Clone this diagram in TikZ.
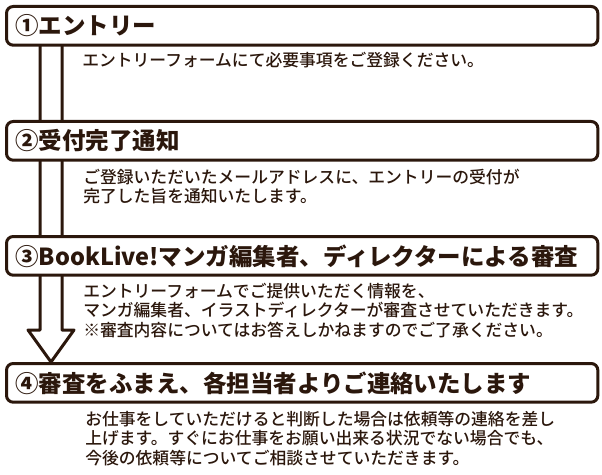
\documentclass[tikz,border=0pt]{standalone}
\usepackage{fontspec}
\newfontfamily\cjk{Noto Sans CJK JP}[BoldFont={* Black}]
\newfontfamily\cjkmid{Noto Sans CJK JP Medium}
\usetikzlibrary{positioning,calc,backgrounds}
\definecolor{ink}{HTML}{2B170C}

\begin{document}
\begin{tikzpicture}[x=0.75pt,y=-0.75pt,
  stepbox/.style={draw=ink,line width=2.25pt,rounded corners=5pt,fill=white,anchor=north west,
    minimum height=29pt,text width=430pt,inner xsep=6.75pt,align=left,text=ink,
    font=\cjk\bfseries\fontsize{17.6}{20}\selectfont},
  desc/.style={anchor=north west,inner sep=0pt,align=left,text=ink,
    font=\cjkmid\fontsize{12.6}{14.6}\selectfont},
  arrowline/.style={draw=ink,line width=2.25pt,line join=round}]
\useasboundingbox (0,0) rectangle (602,474);
\node[stepbox] (s1) at (5,5) {①エントリー};
\node[stepbox] (s2) at (5,120) {②受付完了通知};
\node[stepbox] (s3) at (5,235) {③BookLive!マンガ編集者、ディレクターによる審査};
\node[stepbox] (s4) at (5,362) {④審査をふまえ、各担当者よりご連絡いたします};
\node[desc] (d1) at (82,51.6) {エントリーフォームにて必要事項をご登録ください。};
\node[desc] (d2) at (83,168.6) {ご登録いただいたメールアドレスに、エントリーの受付が\\完了した旨を通知いたします。};
\node[desc] (d3) at (83,282.6) {エントリーフォームでご提供いただく情報を、\\マンガ編集者、イラストディレクターが審査させていただきます。\\※審査内容についてはお答えしかねますのでご了承ください。};
\node[desc] (d4) at (85,410.6) {お仕事をしていただけると判断した場合は依頼等の連絡を差し\\上げます。すぐにお仕事をお願い出来る状況でない場合でも、\\今後の依頼等についてご相談させていただきます。};
\coordinate (neck) at (51,330);
\begin{scope}[on background layer]
\draw[arrowline] ($(s1.center -| neck)+(-11,0)$) -- ($(neck)+(-11,0)$) -- ($(neck)+(-23,0)$)
  -- (neck |- s4.north) -- ($(neck)+(23,0)$) -- ($(neck)+(11,0)$) -- ($(s1.center -| neck)+(11,0)$);
\end{scope}
\end{tikzpicture}
\end{document}
